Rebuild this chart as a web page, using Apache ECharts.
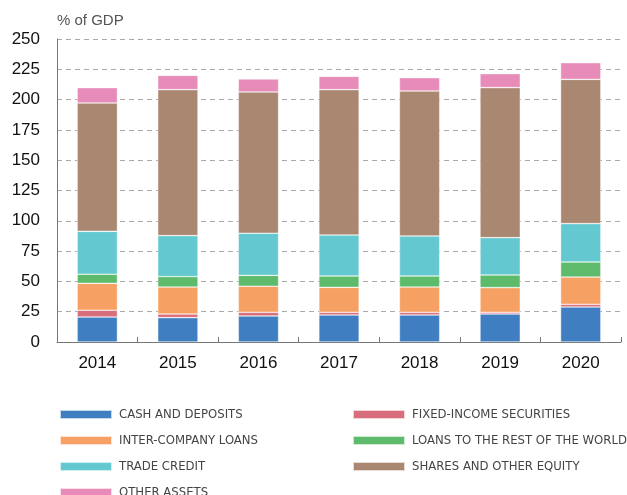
<!DOCTYPE html>
<html>
<head>
<meta charset="utf-8">
<script src="https://cdn.jsdelivr.net/npm/echarts@6/dist/echarts.min.js"></script>
<style>
  html, body { margin: 0; padding: 0; background: #fff; }
  #chart { width: 627px; height: 495px; }
</style>
</head>
<body>
<div id="chart"></div>
<script>
// categories
var years = ['2014', '2015', '2016', '2017', '2018', '2019', '2020'];

// series values, % of GDP
var cashDeposits = [20.6, 20.1, 21.5, 22.3, 22.3, 23.1, 28.9];
var fixedIncome = [5.6, 3.0, 3.0, 2.2, 2.2, 1.4, 2.2];
var interCompany = [22.2, 22.3, 21.5, 20.6, 20.9, 20.4, 22.5];
var loansRow = [7.5, 8.6, 9.0, 9.4, 9.1, 10.4, 12.4];
var tradeCredit = [35.4, 33.8, 34.7, 33.8, 33.0, 30.8, 31.7];
var sharesEquity = [105.9, 120.4, 116.6, 119.9, 119.6, 123.8, 119.0];
var otherAssets = [12.7, 11.8, 10.7, 11.0, 11.0, 11.5, 13.8];

var yTicks = [0, 25, 50, 75, 100, 125, 150, 175, 200, 225, 250];

var seriesList = [
  { name: 'CASH AND DEPOSITS', data: cashDeposits, color: '#3f7fc1' },
  { name: 'FIXED-INCOME SECURITIES', data: fixedIncome, color: '#d86e7b' },
  { name: 'INTER-COMPANY LOANS', data: interCompany, color: '#f7a063' },
  { name: 'LOANS TO THE REST OF THE WORLD', data: loansRow, color: '#5dbb6b' },
  { name: 'TRADE CREDIT', data: tradeCredit, color: '#63c8cf' },
  { name: 'SHARES AND OTHER EQUITY', data: sharesEquity, color: '#a98770' },
  { name: 'OTHER ASSETS', data: otherAssets, color: '#e78cb9' }
];

var chart = echarts.init(document.getElementById('chart'));

var legendText = {
  fontFamily: "'DejaVu Sans Condensed', sans-serif",
  fontSize: 13,
  color: '#444',
  lineHeight: 16,
  padding: [0, 0, 0, 2]
};

function legendCol(left, names) {
  return {
    orient: 'vertical',
    left: left,
    top: 406.5,
    height: 100,
    padding: 0,
    itemWidth: 52,
    itemHeight: 9,
    itemGap: 10,
    icon: 'rect',
    textStyle: legendText,
    data: names
  };
}

var option = {
  animation: false,
  textStyle: { fontFamily: 'Liberation Sans, Arial, sans-serif' },
  title: {
    text: '% of GDP',
    left: 57,
    top: 13,
    padding: 0,
    textStyle: { fontSize: 15, fontWeight: 'normal', color: '#555' }
  },
  legend: [
    legendCol(59, ['CASH AND DEPOSITS', 'INTER-COMPANY LOANS', 'TRADE CREDIT', 'OTHER ASSETS']),
    legendCol(352, ['FIXED-INCOME SECURITIES', 'LOANS TO THE REST OF THE WORLD', 'SHARES AND OTHER EQUITY'])
  ],
  grid: { left: 57, right: 6, top: 39, bottom: 153 },
  xAxis: {
    type: 'category',
    data: years,
    boundaryGap: true,
    axisLine: { lineStyle: { color: '#777', width: 1 } },
    axisTick: { show: true, inside: true, length: 5, lineStyle: { color: '#777' } },
    axisLabel: { color: '#111', fontSize: 17, margin: 13 }
  },
  yAxis: {
    type: 'value',
    min: yTicks[0],
    max: yTicks[yTicks.length - 1],
    interval: 25,
    axisLine: { show: true, lineStyle: { color: '#777', width: 1 } },
    axisTick: { show: false },
    axisLabel: { color: '#111', fontSize: 17, margin: 17 },
    splitLine: { lineStyle: { color: '#aaa', type: [5, 4], width: 1 } }
  },
  series: seriesList.map(function (s) {
    return {
      name: s.name,
      type: 'bar',
      stack: 'total',
      barWidth: '50%',
      data: s.data,
      itemStyle: { color: s.color, borderColor: 'rgba(255,255,255,0.7)', borderWidth: 0.6 }
    };
  })
};

chart.setOption(option);
</script>
</body>
</html>
